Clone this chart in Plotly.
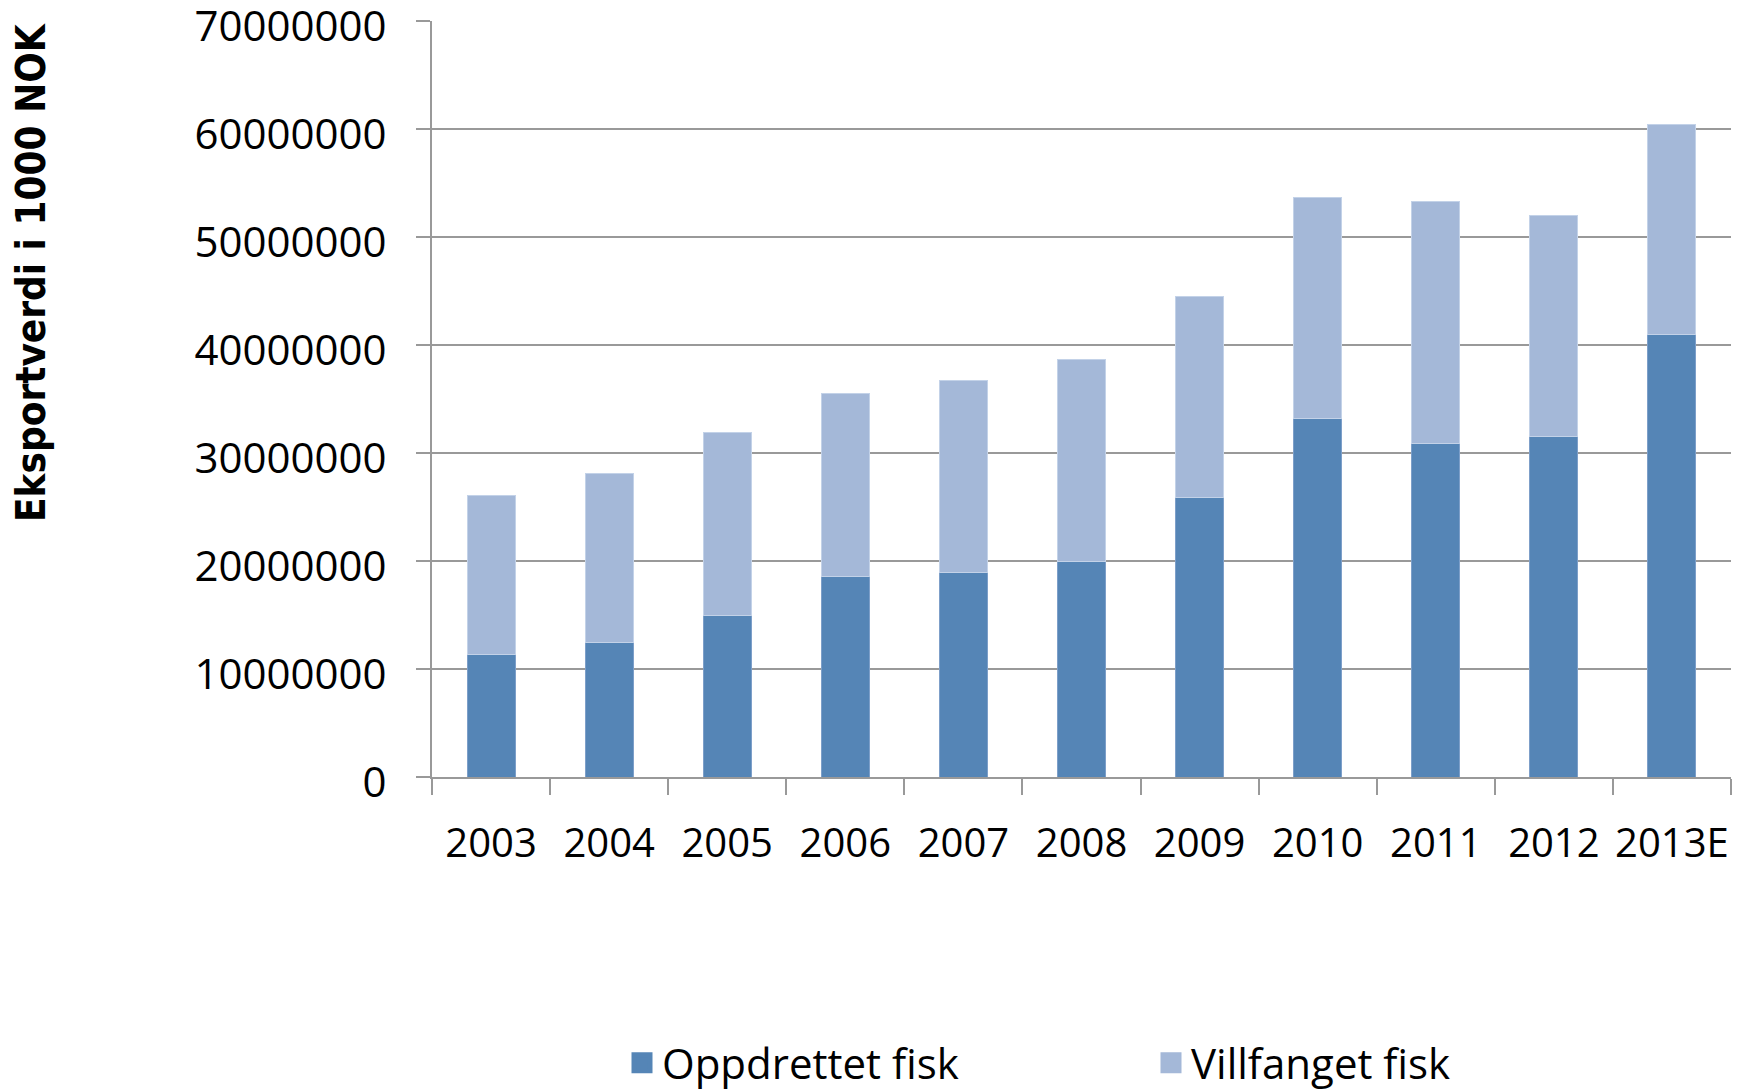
import plotly.graph_objects as go

years = ["2003", "2004", "2005", "2006", "2007", "2008", "2009", "2010", "2011", "2012", "2013E"]
oppdrettet = [11300000, 12450000, 14950000, 18550000, 18900000, 20000000,
              25900000, 33200000, 30900000, 31500000, 40950000]
villfanget = [14800000, 15650000, 16950000, 16950000, 17800000, 18700000,
              18600000, 20500000, 22400000, 20500000, 19450000]
y_ticks = [0, 10000000, 20000000, 30000000, 40000000, 50000000, 60000000, 70000000]

DARK = "#5585B6"
LIGHT = "#A4B8D8"
GRID = "#999999"
FONT = "Open Sans, Lato, DejaVu Sans, sans-serif"

fig = go.Figure()
fig.add_trace(go.Bar(x=years, y=oppdrettet, name="Oppdrettet fisk",
                     marker=dict(color=DARK, line=dict(color="#7D9FC9", width=1)),
                     showlegend=False))
fig.add_trace(go.Bar(x=years, y=villfanget, name="Villfanget fisk",
                     marker=dict(color=LIGHT, line=dict(color="#C3D2E8", width=1)),
                     showlegend=False))
# legend entries (larger square symbols than bar legend glyphs)
fig.add_trace(go.Scatter(x=[None], y=[None], mode="markers", name="Oppdrettet fisk",
                         marker=dict(symbol="square", size=16, color=DARK,
                                     line=dict(color=DARK, width=5))))
fig.add_trace(go.Scatter(x=[None], y=[None], mode="markers", name="Villfanget fisk",
                         marker=dict(symbol="square", size=16, color=LIGHT,
                                     line=dict(color=LIGHT, width=5))))

fig.update_layout(
    width=1748, height=1092,
    margin=dict(l=432, r=17, t=21, b=315, autoexpand=False),
    barmode="stack", bargap=0.594,
    plot_bgcolor="white", paper_bgcolor="white",
    font=dict(family=FONT, size=42, color="black"),
    showlegend=True,
    legend=dict(orientation="h", x=(622 - 432) / 1299, xanchor="left",
                y=(777 - 1063) / 756, yanchor="middle", traceorder="normal",
                entrywidth=484, entrywidthmode="pixels",
                font=dict(family=FONT, size=42, color="black"),
                bgcolor="rgba(0,0,0,0)", itemclick=False),
    xaxis=dict(type="category", showline=True, linecolor=GRID, linewidth=2,
               ticks="outside", tickson="boundaries", ticklen=16, tickwidth=2,
               tickcolor=GRID, ticklabelstandoff=30, tickangle=0,
               ticklabeloverflow="allow",
               tickfont=dict(family=FONT, size=40, color="black"),
               showgrid=False, fixedrange=True),
    yaxis=dict(range=[0, 70000000], tickvals=y_ticks, tickformat="d",
               showline=True, linecolor=GRID, linewidth=2,
               ticks="outside", ticklen=14, tickwidth=2, tickcolor=GRID,
               ticklabelstandoff=21, ticklabeloverflow="allow", ticklabelshift=5,
               showgrid=True, gridcolor=GRID, gridwidth=2, zeroline=False,
               tickfont=dict(family=FONT, size=42, color="black"),
               fixedrange=True),
    annotations=[dict(text="<b>Eksportverdi i 1000 NOK</b>", textangle=-90,
                      xref="paper", yref="paper",
                      x=(31 - 432) / 1299, y=(777 - 273) / 756,
                      xanchor="center", yanchor="middle", showarrow=False,
                      font=dict(family="Liberation Sans Narrow, DejaVu Sans Condensed, Open Sans, sans-serif",
                                size=40, color="black"))],
)

fig.write_html("out.html", config={"displayModeBar": False},
               post_script="document.body.style.margin='0';document.body.style.overflow='hidden';")
